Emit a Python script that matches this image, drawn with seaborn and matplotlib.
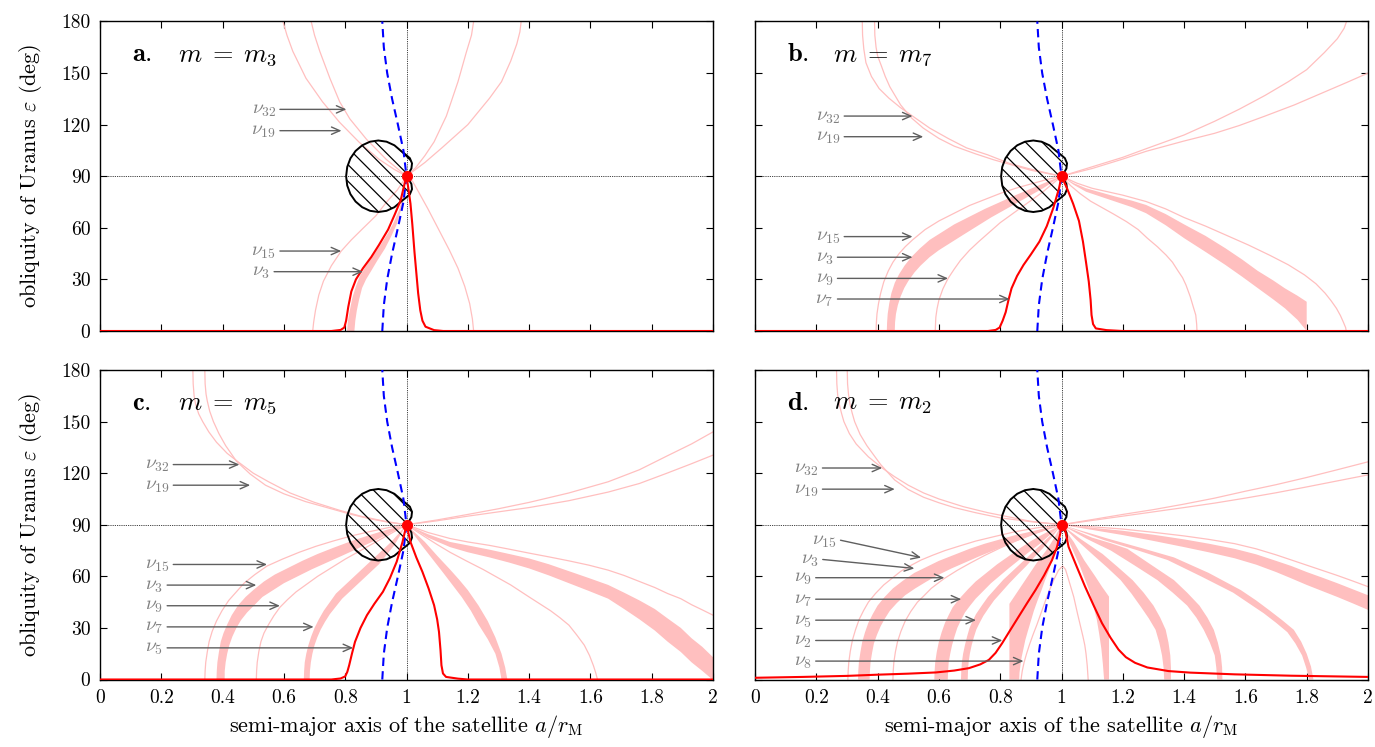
import matplotlib
matplotlib.use("Agg")
import matplotlib.pyplot as plt
import seaborn as sns
import pandas as pd

# ---------------- values (x = a/r_M, y = obliquity deg) ----------------
X_TICKS = [0, 0.2, 0.4, 0.6, 0.8, 1.0, 1.2, 1.4, 1.6, 1.8, 2.0]
X_TICK_LABELS = ["0", "0.2", "0.4", "0.6", "0.8", "1", "1.2", "1.4", "1.6", "1.8", "2"]
Y_TICKS = [0, 30, 60, 90, 120, 150, 180]
REF_A = 1.0
REF_EPS = 90.0
CASSINI = [(1.0, 90.0)]

PANEL_TAGS = ["a.", "b.", "c.", "d."]
PANEL_MASS = [r"$m \;=\; m_3$", r"$m \;=\; m_7$", r"$m \;=\; m_5$", r"$m \;=\; m_2$"]

# Laplace-plane curve (blue dashed), same in every panel
BLUE_X = [0.921, 0.926, 0.937, 0.953, 0.972, 0.99, 1.0, 0.99, 0.972, 0.953, 0.937, 0.926, 0.921]
BLUE_Y = [0, 15, 30, 45, 60, 75, 90, 105, 120, 135, 150, 165, 180]

# hatched region outline (round, two small lobes around the red point), same in every panel
HATCH = [(0.908, 110.8), (0.881, 110.1), (0.8555, 108.0), (0.8338, 104.7), (0.817, 100.4),
         (0.8066, 95.4), (0.803, 90), (0.8066, 84.6), (0.817, 79.6), (0.8338, 75.3),
         (0.8555, 72.0), (0.881, 69.9), (0.908, 69.2), (0.935, 69.9), (0.9605, 72.0),
         (0.9822, 75.3), (0.998, 77.5), (1.011, 79.5), (1.018, 82.5), (1.016, 85.5),
         (1.008, 88), (1.0, 90), (1.008, 92), (1.016, 94.5), (1.018, 97.5), (1.011, 100.5),
         (0.998, 102.5), (0.9822, 104.7), (0.9605, 108.0), (0.935, 110.1), (0.908, 110.8)]

# ---- panel a (m3)
A_RED = [(0, 0), (0.755, 0), (0.785, 0.6), (0.797, 2), (0.803, 6), (0.81, 14), (0.82, 23),
         (0.835, 30), (0.858, 36.5), (0.885, 43), (0.91, 50), (0.94, 59), (0.961, 67.5),
         (0.981, 76), (0.994, 86), (1.0, 90), (1.006, 83), (1.013, 74), (1.019, 62),
         (1.026, 46), (1.032, 34), (1.038, 22), (1.045, 12), (1.052, 6), (1.062, 2.5),
         (1.09, 0.5), (1.12, 0), (2, 0)]
A_UPL1 = [(0.597, 180), (0.61, 172), (0.629, 162.7), (0.672, 147), (0.726, 133.3),
          (0.781, 121.5), (0.846, 109.7), (0.911, 99.8), (0.96, 94), (1, 90)]
A_UPL2 = [(0.689, 180), (0.70, 172), (0.717, 162.7), (0.75, 147), (0.782, 133.3),
          (0.815, 123.4), (0.869, 111.6), (0.934, 99.8), (0.97, 94.5), (1, 90)]
A_UPR1 = [(1, 90), (1.03, 95), (1.06, 102), (1.09, 110), (1.13, 125), (1.168, 145),
          (1.195, 162), (1.212, 172), (1.219, 180)]
A_UPR2 = [(1, 90), (1.06, 98), (1.116, 106.6), (1.2, 120), (1.271, 135.4), (1.31, 145),
          (1.34, 157), (1.36, 167), (1.37, 174), (1.374, 180)]
A_LOR = [(1, 90), (1.02, 87), (1.039, 81), (1.07, 71), (1.103, 59.7), (1.14, 47),
         (1.168, 36.5), (1.19, 26), (1.206, 16), (1.215, 7), (1.219, 0)]
A_NU15 = [(0.694, 0), (0.697, 5), (0.703, 12), (0.714, 21), (0.729, 29), (0.755, 38),
          (0.787, 46.5), (0.82, 53), (0.858, 59.7), (0.9, 67), (0.935, 75), (0.97, 82), (1, 90)]
A_NU3_UP = [(0.806, 0), (0.809, 6), (0.815, 12), (0.823, 19), (0.835, 26), (0.848, 32),
            (0.865, 37), (0.89, 43.5), (0.915, 50), (0.94, 57), (0.958, 63), (0.975, 70),
            (0.985, 76), (0.994, 83), (1, 90)]
A_NU3_LO = [(0.83, 0), (0.833, 6), (0.838, 12), (0.845, 18), (0.855, 25), (0.868, 30),
            (0.885, 35), (0.905, 41), (0.93, 48), (0.95, 55), (0.968, 62), (0.98, 69),
            (0.99, 76), (0.996, 83), (1, 90)]
A_ARROWS = [("32", 0.587, 128.9, 0.804, 128.9), ("19", 0.587, 116.5, 0.788, 116.5),
            ("15", 0.587, 46.5, 0.787, 46.5), ("3", 0.568, 34.5, 0.858, 34.5)]

# ---- panel b (m7)
B_RED = [(0, 0), (0.76, 0), (0.785, 0.6), (0.798, 2), (0.808, 6), (0.818, 11), (0.827, 18),
         (0.837, 24.8), (0.855, 32), (0.876, 38.4), (0.9, 44.5), (0.928, 52), (0.952, 61),
         (0.973, 71.4), (0.992, 83), (1, 90), (1.018, 83), (1.038, 74), (1.057, 64),
         (1.07, 52), (1.08, 40), (1.089, 28.7), (1.095, 18), (1.098, 9.3), (1.103, 4),
         (1.112, 1.5), (1.147, 0.5), (1.2, 0), (2, 0)]
B_UPL1 = [(0.35, 180), (0.351, 172), (0.355, 164), (0.362, 156), (0.38, 148), (0.405, 141),
          (0.437, 135.4), (0.474, 130), (0.514, 125), (0.57, 118), (0.63, 112), (0.69, 106.5),
          (0.76, 102.4), (0.83, 97.5), (0.889, 94.6), (0.95, 92), (1, 90)]
B_UPL2 = [(0.39, 180), (0.391, 172), (0.395, 165), (0.40, 160), (0.411, 154.8), (0.425, 148),
          (0.44, 142), (0.475, 131.5), (0.51, 124), (0.549, 118), (0.6, 112), (0.65, 107.5),
          (0.72, 103), (0.78, 99.5), (0.85, 96), (0.9, 93.5), (1, 90)]
B_UPR1 = [(1, 90), (1.1, 95.5), (1.2, 101), (1.276, 106), (1.4, 114), (1.5, 122), (1.58, 129),
          (1.664, 137), (1.74, 145), (1.8, 152), (1.858, 162), (1.9, 170), (1.922, 176),
          (1.93, 180)]
B_UPR2 = [(1, 90), (1.1, 94.5), (1.2, 100), (1.276, 104.5), (1.4, 110.5), (1.5, 115),
          (1.58, 119.5), (1.664, 125), (1.76, 131.5), (1.858, 139), (1.93, 144.5), (2.0, 150)]
B_NU15 = [(0.395, 0), (0.396, 5), (0.398, 10), (0.403, 16), (0.41, 22), (0.42, 28.5),
          (0.435, 35), (0.45, 40), (0.47, 45), (0.49, 49), (0.514, 53), (0.555, 59), (0.6, 64),
          (0.65, 68.5), (0.7, 73), (0.75, 76.5), (0.8, 80), (0.85, 83), (0.9, 85.5),
          (0.95, 88), (1, 90)]
B_NU3_UP = [(0.43, 0), (0.431, 5), (0.433, 10), (0.438, 16), (0.445, 22), (0.456, 28),
            (0.47, 33), (0.488, 38), (0.51, 43), (0.538, 48), (0.57, 53), (0.61, 57.5),
            (0.65, 62), (0.7, 66.5), (0.75, 71), (0.8, 75), (0.85, 79), (0.89, 82),
            (0.93, 85), (0.97, 88), (1, 90)]
B_NU3_LO = [(0.456, 0), (0.457, 5), (0.46, 10), (0.466, 15), (0.475, 20), (0.487, 25),
            (0.5, 29), (0.52, 34), (0.54, 38), (0.57, 43), (0.6, 47), (0.64, 51.5), (0.68, 56),
            (0.725, 61), (0.77, 66), (0.815, 70.5), (0.86, 75), (0.9, 79), (0.94, 83),
            (0.97, 86.5), (1, 90)]
B_NU9 = [(0.588, 0), (0.589, 4), (0.59, 8), (0.594, 13), (0.6, 18), (0.613, 24.5), (0.63, 30.6),
         (0.65, 36), (0.67, 41), (0.7, 47), (0.73, 52), (0.765, 57.5), (0.8, 63), (0.835, 67.5),
         (0.87, 72), (0.905, 76.5), (0.94, 81), (0.97, 85.5), (1, 90)]
B_LOR1 = [(1, 90), (1.03, 84.5), (1.06, 80), (1.095, 75.5), (1.13, 72), (1.17, 68),
          (1.212, 63.6), (1.25, 59), (1.28, 54), (1.313, 49), (1.341, 44.2), (1.362, 40),
          (1.38, 35), (1.395, 31), (1.406, 26.8), (1.42, 20), (1.43, 14), (1.438, 9.3),
          (1.441, 4), (1.442, 0)]
B_LOR2 = [(1, 90), (1.05, 86), (1.1, 83), (1.15, 81), (1.2, 79), (1.276, 75.3), (1.34, 71),
          (1.4, 66), (1.47, 61), (1.535, 55.9), (1.61, 50), (1.68, 44), (1.74, 38.5),
          (1.793, 32.6), (1.83, 27.5), (1.86, 22), (1.88, 17.5), (1.897, 13.2), (1.91, 9),
          (1.92, 5), (1.927, 2), (1.929, 0)]
B_BAND_UP = [(1, 90), (1.04, 86), (1.08, 83), (1.13, 80.5), (1.18, 78), (1.23, 75.8),
             (1.276, 73.3), (1.34, 68), (1.4, 62), (1.47, 55.3), (1.535, 48.1), (1.59, 41.5),
             (1.64, 35), (1.69, 29.5), (1.729, 24.8), (1.77, 20.5), (1.8, 17)]
B_BAND_LO = [(1, 90), (1.04, 85), (1.08, 81), (1.13, 78), (1.18, 75), (1.23, 72), (1.276, 68.5),
             (1.34, 61.5), (1.4, 54), (1.47, 46), (1.535, 38.4), (1.59, 31.5), (1.64, 25),
             (1.69, 18.5), (1.729, 13.2), (1.77, 6.5), (1.8, 0)]
B_ARROWS = [("32", 0.291, 125, 0.514, 125), ("19", 0.291, 113, 0.549, 113),
            ("15", 0.291, 54.9, 0.514, 54.9), ("3", 0.269, 42.9, 0.514, 42.9),
            ("9", 0.269, 30.6, 0.63, 30.6), ("7", 0.269, 18.6, 0.831, 18.6)]

# ---- panel c (m5)
C_RED = [(0, 0), (0.755, 0), (0.785, 0.6), (0.8, 1.8), (0.807, 4.5), (0.813, 8.3), (0.822, 15),
         (0.832, 21.9), (0.85, 30), (0.871, 37.4), (0.895, 44), (0.923, 51), (0.946, 59),
         (0.968, 68.5), (0.987, 80), (1, 90), (1.013, 80), (1.032, 71), (1.052, 62.6),
         (1.072, 53), (1.09, 43.2), (1.1, 35), (1.106, 27.7), (1.111, 17), (1.114, 8.3),
         (1.119, 3.5), (1.129, 1.5), (1.168, 0.5), (1.2, 0), (2, 0)]
C_UPL1 = [(0.303, 180), (0.304, 172), (0.307, 165), (0.312, 160), (0.322, 154.5), (0.335, 150),
          (0.355, 144), (0.38, 138), (0.415, 131.5), (0.455, 126), (0.5, 120), (0.55, 115),
          (0.62, 108.5), (0.7, 103), (0.78, 98.5), (0.85, 95), (0.93, 92), (1, 90)]
C_UPL2 = [(0.342, 180), (0.343, 172), (0.346, 166), (0.35, 162), (0.358, 156), (0.37, 150),
          (0.388, 143), (0.41, 136), (0.445, 127), (0.49, 119.5), (0.54, 113), (0.6, 108),
          (0.67, 103.5), (0.75, 99.5), (0.82, 96), (0.88, 93.5), (0.94, 91.5), (1, 90)]
C_UPR1 = [(1, 90), (1.1, 92.8), (1.2, 96), (1.3, 99.3), (1.4, 103), (1.53, 108.5),
          (1.658, 115), (1.76, 122), (1.85, 130), (1.93, 137), (2, 144)]
C_UPR2 = [(1, 90), (1.1, 92.3), (1.2, 95), (1.3, 97.5), (1.4, 100), (1.53, 104),
          (1.658, 109), (1.76, 114), (1.85, 120), (1.93, 125.5), (2, 130.5)]
C_NU15 = [(0.342, 0), (0.343, 5), (0.345, 10), (0.35, 16), (0.356, 22), (0.366, 28),
          (0.38, 34), (0.398, 40), (0.42, 46), (0.445, 51), (0.47, 56), (0.505, 61),
          (0.545, 66), (0.595, 70), (0.65, 74), (0.705, 77.5), (0.76, 80.5), (0.82, 83.5),
          (0.88, 86), (0.94, 88.3), (1, 90)]
C_NU3_UP = [(0.38, 0), (0.381, 5), (0.383, 10), (0.388, 16), (0.394, 22), (0.403, 27),
            (0.415, 32), (0.43, 37.5), (0.45, 43), (0.475, 48), (0.5, 52), (0.535, 57),
            (0.57, 61), (0.615, 65), (0.66, 69), (0.71, 73), (0.76, 76.5), (0.82, 80.5),
            (0.88, 84), (0.94, 87.3), (1, 90)]
C_NU3_LO = [(0.406, 0), (0.407, 5), (0.41, 10), (0.415, 15), (0.422, 20), (0.432, 25),
            (0.445, 30), (0.46, 34.5), (0.48, 39), (0.505, 43.5), (0.53, 48), (0.565, 52),
            (0.6, 56), (0.645, 60), (0.69, 64), (0.74, 68), (0.79, 72), (0.845, 76.5),
            (0.9, 81), (0.95, 85.5), (1, 90)]
C_NU9 = [(0.51, 0), (0.511, 5), (0.513, 10), (0.518, 16), (0.525, 22), (0.535, 27), (0.55, 32),
         (0.567, 37), (0.587, 42), (0.612, 46.5), (0.64, 51), (0.675, 55.5), (0.71, 60),
         (0.755, 65), (0.8, 70), (0.85, 75), (0.9, 80), (0.95, 85), (1, 90)]
C_NU7_UP = [(0.665, 0), (0.666, 5), (0.668, 10), (0.673, 15), (0.68, 20), (0.689, 25),
            (0.7, 30), (0.714, 35), (0.73, 40), (0.75, 45), (0.77, 50), (0.8, 55), (0.83, 60),
            (0.86, 65), (0.89, 70), (0.92, 75), (0.95, 80), (0.975, 85), (1, 90)]
C_NU7_LO = [(0.684, 0), (0.685, 5), (0.688, 10), (0.693, 15), (0.7, 20), (0.709, 24.5),
            (0.72, 29), (0.734, 33.5), (0.75, 38), (0.77, 42.5), (0.79, 47), (0.82, 52),
            (0.85, 57), (0.88, 62), (0.91, 67), (0.935, 72.5), (0.96, 78), (0.98, 84), (1, 90)]
C_LOR_UP = [(1, 90), (1.03, 85), (1.06, 80), (1.1, 72), (1.142, 64), (1.172, 58), (1.2, 52),
            (1.235, 43), (1.265, 34), (1.29, 24.5), (1.31, 15), (1.322, 7), (1.329, 0)]
C_LOR_LO = [(1, 90), (1.025, 84), (1.05, 78), (1.085, 70), (1.12, 62), (1.15, 55), (1.18, 48),
            (1.21, 40), (1.235, 32), (1.265, 23.5), (1.29, 15), (1.303, 7), (1.31, 0)]
C_LOR1 = [(1, 90), (1.03, 86.5), (1.06, 83), (1.1, 78.5), (1.142, 74), (1.195, 69),
          (1.25, 64), (1.3, 59), (1.34, 55), (1.37, 51.5), (1.4, 48), (1.435, 44), (1.47, 40),
          (1.5, 36), (1.53, 31.6), (1.555, 26), (1.58, 20), (1.597, 14), (1.61, 8),
          (1.618, 3.5), (1.623, 0)]
C_BIG_UP = [(1, 90), (1.07, 84.5), (1.142, 80), (1.2, 78), (1.271, 75.5), (1.335, 73),
            (1.4, 70.4), (1.465, 67), (1.53, 63), (1.595, 59), (1.658, 55), (1.71, 50.5),
            (1.76, 46), (1.81, 41), (1.852, 35.5), (1.895, 30), (1.93, 24), (1.965, 19),
            (1.994, 14), (2, 13)]
C_BIG_LO = [(1, 90), (1.07, 82.5), (1.142, 77), (1.2, 74), (1.271, 71), (1.335, 68),
            (1.4, 64.6), (1.465, 60.5), (1.53, 56), (1.595, 51.5), (1.658, 47), (1.71, 41),
            (1.76, 35), (1.81, 28.5), (1.852, 22), (1.895, 16), (1.93, 10), (1.965, 5),
            (1.994, 0.6), (2, 0)]
C_LOR2 = [(1, 90), (1.07, 85.5), (1.142, 82), (1.2, 80), (1.271, 78), (1.335, 75.8),
          (1.4, 73.5), (1.465, 71.3), (1.53, 69), (1.595, 66.5), (1.658, 63.6), (1.71, 60.5),
          (1.76, 57), (1.81, 53.5), (1.852, 50), (1.895, 47), (1.93, 43.5), (1.965, 40.5),
          (2, 37.4)]
C_ARROWS = [("32", 0.239, 125, 0.455, 125), ("19", 0.239, 113, 0.49, 113),
            ("15", 0.239, 66.9, 0.545, 66.9), ("3", 0.219, 54.9, 0.51, 54.9),
            ("9", 0.219, 42.9, 0.587, 42.9), ("7", 0.219, 30.6, 0.697, 30.6),
            ("5", 0.219, 18.4, 0.826, 18.4)]

# ---- panel d (m2)
D_RED = [(0, 1), (0.156, 1.5), (0.3, 2.1), (0.4, 2.8), (0.5, 3.4), (0.59, 4.1), (0.65, 5.2),
         (0.698, 6.6), (0.735, 8.8), (0.763, 11.4), (0.785, 15.5), (0.806, 21), (0.832, 28.5),
         (0.86, 36.5), (0.888, 44.5), (0.915, 52), (0.943, 60.5), (0.969, 69.4), (0.985, 77),
         (0.996, 84.9), (1, 90), (1.012, 86.8), (1.023, 77.2), (1.05, 65.5), (1.077, 54),
         (1.105, 43), (1.132, 32.8), (1.16, 24.3), (1.186, 17.4), (1.21, 13), (1.24, 9.7),
         (1.28, 7), (1.349, 4.9), (1.42, 4), (1.565, 3), (1.75, 2.2), (2, 1.5)]
D_UPL1 = [(0.266, 180), (0.267, 172), (0.27, 165), (0.275, 160), (0.282, 155), (0.29, 150),
          (0.308, 143), (0.33, 137), (0.37, 129.5), (0.415, 123), (0.455, 118), (0.5, 113),
          (0.55, 108.5), (0.6, 105), (0.68, 100.5), (0.76, 97), (0.83, 94.5), (0.9, 92),
          (0.95, 91), (1, 90)]
D_UPL2 = [(0.301, 180), (0.302, 172), (0.305, 166), (0.31, 160), (0.317, 155), (0.325, 150),
          (0.343, 142.5), (0.365, 136), (0.41, 125), (0.456, 116), (0.5, 110.5), (0.55, 106),
          (0.6, 102.8), (0.65, 100), (0.72, 97), (0.8, 94), (0.9, 91.8), (1, 90)]
D_UPR1 = [(1, 90), (1.1, 93), (1.2, 96), (1.3, 98.8), (1.4, 102), (1.5, 105.5), (1.6, 109.5),
          (1.7, 113.3), (1.8, 117.5), (1.9, 122), (2, 126.6)]
D_UPR2 = [(1, 90), (1.1, 92.5), (1.2, 95), (1.3, 97.5), (1.4, 100), (1.5, 102.6), (1.6, 105.5),
          (1.7, 108.6), (1.8, 112), (1.9, 115.5), (2, 119)]
D_NU15 = [(0.303, 0), (0.304, 5), (0.306, 10), (0.311, 16.5), (0.318, 23), (0.328, 29),
          (0.34, 35), (0.354, 40), (0.37, 45), (0.393, 50), (0.42, 55), (0.448, 59),
          (0.476, 63), (0.508, 66.3), (0.542, 69.5), (0.58, 72.3), (0.62, 75), (0.67, 77.8),
          (0.72, 80.5), (0.785, 83.3), (0.85, 86), (0.92, 88.2), (1, 90)]
D_NU3_UP = [(0.336, 0), (0.337, 5), (0.339, 10), (0.344, 16), (0.35, 22), (0.359, 27.5),
            (0.37, 33), (0.384, 38), (0.4, 43), (0.423, 48), (0.45, 53), (0.483, 57.5),
            (0.52, 62), (0.56, 65.5), (0.6, 69), (0.65, 72.5), (0.7, 76), (0.75, 79),
            (0.8, 81.5), (0.85, 84), (0.9, 86), (0.95, 88.2), (1, 90)]
D_NU3_LO = [(0.374, 0), (0.375, 5), (0.377, 10), (0.382, 15.5), (0.388, 21), (0.398, 26),
            (0.41, 31), (0.424, 35.5), (0.44, 40), (0.463, 44.5), (0.49, 49), (0.523, 53),
            (0.56, 57), (0.6, 61), (0.64, 64.5), (0.685, 68), (0.73, 71.5), (0.775, 74.8),
            (0.82, 78), (0.865, 81.3), (0.91, 84.5), (0.955, 87.3), (1, 90)]
D_NU9 = [(0.45, 0), (0.451, 5), (0.453, 10), (0.458, 16), (0.465, 22), (0.476, 28),
         (0.49, 34), (0.508, 39.5), (0.53, 45), (0.553, 49), (0.575, 53), (0.597, 56),
         (0.618, 58.8), (0.66, 63.5), (0.7, 67.5), (0.75, 72.2), (0.8, 76.5), (0.85, 80.5),
         (0.9, 84), (0.95, 87.2), (1, 90)]
D_NU7_UP = [(0.585, 0), (0.586, 5), (0.588, 10), (0.593, 16), (0.6, 22), (0.609, 27.5),
            (0.62, 33), (0.632, 37.5), (0.645, 42), (0.658, 45), (0.672, 48), (0.695, 52.5),
            (0.72, 57), (0.755, 62), (0.79, 67), (0.83, 72), (0.87, 77), (0.905, 81),
            (0.94, 84.5), (0.97, 87.3), (1, 90)]
D_NU7_LO = [(0.629, 0), (0.63, 5), (0.632, 10), (0.637, 15), (0.643, 20), (0.651, 25),
            (0.66, 30), (0.672, 34.5), (0.685, 39), (0.702, 43), (0.72, 47), (0.745, 51.5),
            (0.77, 56), (0.8, 60.5), (0.83, 65), (0.865, 70), (0.9, 75), (0.93, 79),
            (0.955, 83), (0.978, 86.5), (1, 90)]
D_NU5_UP = [(0.672, 0), (0.673, 5), (0.675, 10), (0.679, 15), (0.685, 20), (0.692, 25),
            (0.70, 30), (0.71, 34), (0.721, 38), (0.74, 43), (0.76, 48), (0.785, 53),
            (0.81, 58), (0.84, 63), (0.87, 68), (0.9, 73), (0.93, 78), (0.965, 84), (1, 90)]
D_NU5_LO = [(0.694, 0), (0.695, 5), (0.697, 10), (0.701, 15), (0.707, 20), (0.714, 24.5),
            (0.722, 29), (0.733, 33), (0.745, 37), (0.762, 41.5), (0.78, 46), (0.805, 51),
            (0.83, 56), (0.857, 61), (0.885, 66), (0.912, 71.3), (0.94, 76.5), (0.97, 83),
            (1, 90)]
D_NU2_UP = [(0.83, 0), (0.83, 44), (0.845, 48), (0.86, 52), (0.875, 56), (0.89, 60),
            (0.905, 64), (0.92, 68), (0.935, 71.5), (0.95, 75), (0.963, 78.5), (0.975, 82),
            (0.988, 86), (1, 90)]
D_NU2_LO = [(0.862, 0), (0.863, 4), (0.866, 8), (0.87, 13), (0.876, 18), (0.882, 23),
            (0.89, 28), (0.9, 34), (0.91, 40), (0.922, 46), (0.935, 52), (0.947, 58),
            (0.96, 64), (0.97, 70), (0.98, 76), (0.99, 83), (1, 90)]
D_NU8 = [(0.868, 0), (0.872, 5), (0.878, 10), (0.886, 15), (0.895, 20), (0.907, 26),
         (0.92, 32), (0.935, 39.5), (0.95, 47), (0.962, 52.5), (0.975, 58), (0.99, 63.5),
         (1.004, 66), (1.013, 64), (1.02, 60), (1.03, 54), (1.04, 48), (1.052, 38.5),
         (1.062, 31), (1.07, 25), (1.076, 20), (1.08, 15), (1.084, 8), (1.087, 0)]
D_R1_UP = [(1, 90), (1.02, 85), (1.04, 80), (1.057, 74.7), (1.074, 69.4), (1.092, 64.7),
           (1.11, 60), (1.132, 54), (1.155, 48.2), (1.155, 0)]
D_R1_LO = [(1, 90), (1.015, 84), (1.03, 78), (1.045, 72), (1.06, 66), (1.075, 59), (1.09, 52),
           (1.103, 43.5), (1.115, 35), (1.123, 26.5), (1.13, 18), (1.135, 9), (1.139, 0)]
D_R2_UP = [(1, 90), (1.03, 86), (1.06, 82), (1.097, 77.5), (1.134, 73), (1.183, 65.5),
           (1.232, 57.8), (1.268, 50.5), (1.3, 43), (1.322, 36), (1.34, 28.9), (1.349, 21.5),
           (1.355, 14), (1.357, 7), (1.357, 0)]
D_R2_LO = [(1, 90), (1.025, 85.5), (1.05, 81), (1.078, 76.5), (1.106, 72), (1.15, 65),
           (1.193, 57.8), (1.228, 50), (1.26, 42), (1.285, 35.5), (1.307, 28.9), (1.319, 21.5),
           (1.328, 14), (1.333, 7), (1.335, 0)]
D_R3_UP = [(1, 90), (1.05, 86.3), (1.1, 82.5), (1.16, 79.3), (1.215, 76), (1.29, 67),
           (1.367, 57.8), (1.41, 50.5), (1.45, 43), (1.476, 36), (1.497, 28.9), (1.51, 21.5),
           (1.52, 14), (1.524, 7), (1.525, 0)]
D_R3_LO = [(1, 90), (1.04, 86), (1.08, 82), (1.12, 78.5), (1.161, 75), (1.237, 66.5),
           (1.313, 57.8), (1.363, 50.5), (1.41, 43), (1.44, 36), (1.464, 28.9), (1.484, 21.5),
           (1.5, 14), (1.505, 7), (1.508, 0)]
D_R4_UP = [(1, 90), (1.075, 86), (1.15, 82), (1.26, 76.5), (1.367, 71), (1.48, 62),
           (1.585, 52), (1.635, 46), (1.68, 40), (1.72, 34.5), (1.758, 28.9), (1.782, 22),
           (1.8, 15), (1.814, 7.5), (1.822, 0)]
D_R4_LO = [(1, 90), (1.07, 85.5), (1.14, 81), (1.245, 75.3), (1.346, 69.5), (1.455, 60),
           (1.56, 50.5), (1.61, 44.5), (1.66, 38.5), (1.7, 33), (1.737, 27.5), (1.763, 21),
           (1.785, 14), (1.798, 7), (1.808, 0)]
D_R5_UP = [(1, 90), (1.1, 88.3), (1.2, 86.5), (1.3, 84.2), (1.4, 81.5), (1.48, 79),
           (1.565, 76), (1.635, 72.8), (1.7, 69), (1.75, 66), (1.8, 62.5), (1.85, 59.3),
           (1.9, 56), (1.95, 52.5), (2, 49)]
D_R5_LO = [(1, 90), (1.1, 87), (1.2, 84), (1.3, 80.6), (1.4, 77), (1.48, 74),
           (1.565, 70.5), (1.635, 66.8), (1.7, 62.5), (1.75, 58.8), (1.8, 55), (1.85, 51.5),
           (1.9, 48), (1.95, 44.3), (2, 40.5)]
D_R6 = [(1, 90), (1.1, 88.8), (1.2, 87.5), (1.3, 85.6), (1.4, 83.5), (1.48, 81.5),
        (1.565, 79), (1.635, 76), (1.7, 72.5), (1.75, 69.5), (1.8, 66.5), (1.85, 63.5),
        (1.9, 60.5), (1.95, 57.3), (2, 54)]
D_ARROWS = [("32", 0.22, 123, 0.415, 123), ("19", 0.22, 110.7, 0.456, 110.7),
            ("15", 0.279, 81, 0.542, 70.9), ("3", 0.221, 69.8, 0.52, 64.6),
            ("9", 0.198, 59.2, 0.618, 59.2), ("7", 0.198, 46.7, 0.673, 46.7),
            ("5", 0.198, 34.5, 0.721, 34.5), ("2", 0.198, 22.7, 0.807, 22.7),
            ("8", 0.198, 10.7, 0.876, 10.7)]

PANELS = [
    dict(red=A_RED, lines=[A_UPL1, A_UPL2, A_UPR1, A_UPR2, A_LOR, A_NU15],
         bands=[(A_NU3_UP, A_NU3_LO)], arrows=A_ARROWS),
    dict(red=B_RED, lines=[B_UPL1, B_UPL2, B_UPR1, B_UPR2, B_NU15, B_NU9, B_LOR1, B_LOR2],
         bands=[(B_NU3_UP, B_NU3_LO), (B_BAND_UP, B_BAND_LO)], arrows=B_ARROWS),
    dict(red=C_RED, lines=[C_UPL1, C_UPL2, C_UPR1, C_UPR2, C_NU15, C_NU9, C_LOR1, C_LOR2],
         bands=[(C_NU3_UP, C_NU3_LO), (C_NU7_UP, C_NU7_LO), (C_LOR_UP, C_LOR_LO),
                (C_BIG_UP, C_BIG_LO)], arrows=C_ARROWS),
    dict(red=D_RED, lines=[D_UPL1, D_UPL2, D_UPR1, D_UPR2, D_NU15, D_NU9, D_NU8, D_R6],
         bands=[(D_NU3_UP, D_NU3_LO), (D_NU7_UP, D_NU7_LO), (D_NU5_UP, D_NU5_LO),
                (D_NU2_UP, D_NU2_LO), (D_R1_UP, D_R1_LO), (D_R2_UP, D_R2_LO),
                (D_R3_UP, D_R3_LO), (D_R4_UP, D_R4_LO), (D_R5_UP, D_R5_LO)], arrows=D_ARROWS),
]

PINK = "#ffbfbf"
GREY_TXT = "#808080"
GREY_ARR = "#5f5f5f"

sns.set_theme(style="ticks")
plt.rcParams["font.family"] = ["cmr10", "DejaVu Serif"]
plt.rcParams["mathtext.fontset"] = "cm"
plt.rcParams["axes.unicode_minus"] = False
plt.rcParams["axes.formatter.use_mathtext"] = True
plt.rcParams["hatch.linewidth"] = 0.9
plt.rcParams["axes.edgecolor"] = "black"
plt.rcParams["text.color"] = "black"
plt.rcParams["axes.labelcolor"] = "black"


def draw_line(ax, pts, color, lw, z, **kw):
    df = pd.DataFrame(pts, columns=["a", "eps"])
    sns.lineplot(data=df, x="a", y="eps", ax=ax, sort=False, estimator=None,
                 color=color, lw=lw, legend=False, zorder=z, **kw)


def draw_band(ax, upper, lower):
    pts = upper + lower[::-1]
    ax.fill([p[0] for p in pts], [p[1] for p in pts], color=PINK, lw=0, zorder=1)


W, H = 1375, 747
boxes = [(100, 21.5, 613, 309.5), (755, 21.5, 613, 309.5),
         (100, 370, 613, 309.5), (755, 370, 613, 309.5)]

fig = plt.figure(figsize=(W / 100, H / 100), dpi=100)

for i, (spec, box) in enumerate(zip(PANELS, boxes)):
    l, t, w, h = box
    ax = fig.add_axes([l / W, (H - t - h) / H, w / W, h / H])

    for b_up, b_lo in spec["bands"]:
        draw_band(ax, b_up, b_lo)
    for pts in spec["lines"]:
        draw_line(ax, pts, PINK, 0.9, 1)

    ax.axvline(REF_A, color="black", ls=(0, (1, 1.2)), lw=0.6, zorder=1.5)
    ax.axhline(REF_EPS, color="black", ls=(0, (1, 1.2)), lw=0.6, zorder=1.5)

    ax.fill([p[0] for p in HATCH], [p[1] for p in HATCH], facecolor="none",
            edgecolor="black", hatch="\\\\", lw=1.4, zorder=2)

    sns.lineplot(x=BLUE_X, y=BLUE_Y, ax=ax, sort=False, estimator=None, color="#0000ff",
                 lw=1.5, ls=(0, (4, 2.5)), legend=False, zorder=3)
    draw_line(ax, spec["red"], "#ff0000", 1.5, 4)
    sns.scatterplot(x=[p[0] for p in CASSINI], y=[p[1] for p in CASSINI], ax=ax,
                    color="#ff0000", edgecolor="#ff0000", s=55, zorder=5, legend=False)

    for lab, x0, y0, x1, y1 in spec["arrows"]:
        ax.annotate("", xy=(x1, y1), xytext=(x0, y0), zorder=5,
                    arrowprops=dict(arrowstyle="->,head_length=0.5,head_width=0.22",
                                    color=GREY_ARR, lw=1.0, shrinkA=0, shrinkB=0,
                                    mutation_scale=12))
        ax.text(x0 - 0.013, y0 - 2.5, r"$\nu_{%s}$" % lab, ha="right", va="baseline",
                fontsize=14, color=GREY_TXT)

    ax.text(0.103, 157, r"$\mathbf{%s}$" % PANEL_TAGS[i], fontsize=19, va="baseline")
    ax.text(0.255, 157, PANEL_MASS[i], fontsize=19, va="baseline")

    ax.set_xlim(0, 2)
    ax.set_ylim(0, 180)
    ax.set_xticks(X_TICKS)
    ax.set_yticks(Y_TICKS)
    ax.tick_params(direction="in", top=True, right=True, length=5, width=0.8,
                   labelsize=14, pad=7, colors="black")
    for s in ax.spines.values():
        s.set_linewidth(1.0)
        s.set_color("black")

    if i >= 2:
        ax.set_xticklabels(X_TICK_LABELS)
        ax.set_xlabel(r"semi-major axis of the satellite $a/r_{\mathrm{M}}$", fontsize=16,
                      labelpad=4)
    else:
        ax.set_xticklabels([])
        ax.set_xlabel("")
    if i % 2 == 0:
        ax.set_yticklabels([str(v) for v in Y_TICKS])
        ax.set_ylabel(r"obliquity of Uranus $\varepsilon$ (deg)", fontsize=16, labelpad=12)
    else:
        ax.set_yticklabels([])
        ax.set_ylabel("")

fig.savefig("out.png", dpi=100)
